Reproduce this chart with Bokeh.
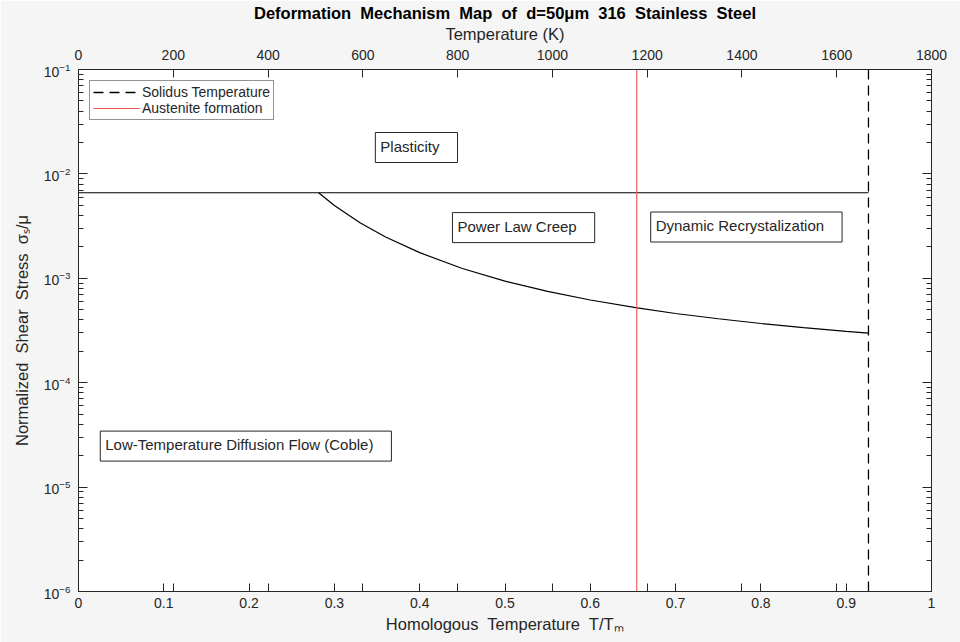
from bokeh.plotting import figure
from bokeh.models import Range1d, LinearAxis, LogAxis, FixedTicker, Label, CustomJSTickFormatter
from bokeh.embed import file_html
from bokeh.resources import INLINE

# ---------------- data ----------------
T_m = 1800                 # temperature scale (K) for homologous axis
T_solidus = 1667           # K
T_austenite = 1178         # K
plasticity_stress = 6.6e-3 # normalized shear stress of plasticity boundary

creep_x = [0.2815, 0.30, 0.33, 0.36, 0.40, 0.45, 0.50, 0.55, 0.60,
           0.655, 0.70, 0.75, 0.80, 0.85, 0.90, 0.926]
creep_y = [6.6e-3, 4.98e-3, 3.41e-3, 2.49e-3, 1.76e-3, 1.24e-3, 9.4e-4,
           7.5e-4, 6.2e-4, 5.2e-4, 4.6e-4, 4.1e-4, 3.69e-4, 3.37e-4,
           3.10e-4, 2.98e-4]

region_names = ["Plasticity", "Power Law Creep", "Dynamic Recrystalization",
                "Low-Temperature Diffusion Flow (Coble)"]
x_ticks = [0, 0.1, 0.2, 0.3, 0.4, 0.5, 0.6, 0.7, 0.8, 0.9, 1.0]
T_ticks = [0, 200, 400, 600, 800, 1000, 1200, 1400, 1600, 1800]
y_decades = [1e-6, 1e-5, 1e-4, 1e-3, 1e-2, 1e-1]

# ---------------- styling ----------------
FONT = "Liberation Sans"
AX = "#262626"
SP = "\u00a0 "   # wide (double) word spacing like the original
y_lo, y_hi = 1e-6, 1e-1
y_minor = [m * d for d in y_decades[:-1] for m in range(2, 10)]

p = figure(width=960, height=642, x_range=Range1d(0, 1),
           y_range=Range1d(y_lo, y_hi), y_axis_type="log",
           output_backend="svg", toolbar_location=None,
           min_border_left=78, min_border_right=29,
           min_border_top=69, min_border_bottom=51,
           background_fill_color="white", border_fill_color="#f5f5f5")
p.grid.visible = False
p.outline_line_color = AX
p.outline_line_width = 1

p.title.text = SP.join(["Deformation", "Mechanism", "Map", "of", "d=50\u03bcm",
                        "316", "Stainless", "Steel"])
p.title.align = "center"
p.title.text_font = FONT
p.title.text_font_size = "16.5px"
p.title.text_font_style = "bold"
p.title.text_color = "#000000"
p.title.offset = 0
p.title.standoff = 0


def style_axis(ax, tick_len=8, minor_len=8):
    ax.axis_line_color = AX
    ax.major_tick_line_color = AX
    ax.minor_tick_line_color = AX
    ax.major_tick_in = tick_len
    ax.major_tick_out = 0
    ax.minor_tick_in = minor_len
    ax.minor_tick_out = 0
    ax.major_label_text_font = FONT
    ax.major_label_text_font_size = "14px"
    ax.major_label_text_color = AX
    ax.axis_label_text_font = FONT
    ax.axis_label_text_font_size = "16.5px"
    ax.axis_label_text_font_style = "normal"
    ax.axis_label_text_color = AX


# bottom axis
xb = p.xaxis[0]
xb.ticker = FixedTicker(ticks=x_ticks, minor_ticks=[t / T_m for t in T_ticks[1:-1]])
xb.axis_label = SP.join(["Homologous", "Temperature", "T/T\u2098"])
style_axis(xb)
xb.major_label_standoff = 6
xb.axis_label_standoff = 4

# left axis
yl = p.yaxis[0]
yl.ticker = FixedTicker(ticks=y_decades, minor_ticks=y_minor)
yl.axis_label = SP.join(["Normalized", "Shear", "Stress", "\u03c3\u209b/\u03bc"])
style_axis(yl, 9, 5)
yl.major_label_standoff = 8
yl.axis_label_standoff = 10

# top axis (temperature)
p.extra_x_ranges = {"T": Range1d(0, T_m)}
xt = LinearAxis(x_range_name="T", axis_label="Temperature (K)",
                ticker=FixedTicker(ticks=T_ticks, minor_ticks=[]))
style_axis(xt)
xt.major_label_standoff = 10
xt.axis_label_standoff = 4
p.add_layout(xt, "above")

# right axis (mirror ticks only)
yr = LogAxis(ticker=FixedTicker(ticks=y_decades, minor_ticks=y_minor),
             formatter=CustomJSTickFormatter(code="return ''"))
style_axis(yr, 9, 5)
yr.major_label_standoff = 0
p.add_layout(yr, "right")

# ---------------- marks ----------------
x_sol = T_solidus / T_m
x_aus = T_austenite / T_m

p.line([0, x_sol], [plasticity_stress, plasticity_stress], line_color="black", line_width=1.2)
p.line(creep_x, creep_y, line_color="black", line_width=1.2)
p.line([x_sol, x_sol], [y_lo, y_hi], line_color="black", line_width=1.3,
       line_dash="10 6", legend_label="Solidus Temperature")
p.line([x_aus, x_aus], [y_lo, y_hi], line_color="#f25252", line_width=1.1,
       legend_label="Austenite formation")

lg = p.legend[0]
lg.location = "top_left"
lg.margin = 11
lg.padding = 3
lg.spacing = 0
lg.label_text_font = FONT
lg.label_text_font_size = "14px"
lg.label_text_color = AX
lg.label_height = 16
lg.glyph_height = 16
lg.glyph_width = 47
lg.label_standoff = 2
lg.border_line_color = AX
lg.border_line_width = 1
lg.background_fill_color = "white"
lg.background_fill_alpha = 1

# region labels (data coordinates: left edge, vertical middle)
region_pos = [(0.348, 1.79e-2), (0.4384, 3.06e-3), (0.6708, 3.1e-3), (0.0255, 2.47e-5)]
for name, (lx, ly) in zip(region_names, region_pos):
    p.add_layout(Label(x=lx, y=ly, text=name, text_align="left",
                       text_baseline="middle", text_font=FONT,
                       text_font_size="15px", text_color=AX,
                       border_line_color=AX, border_line_width=1,
                       background_fill_color="white",
                       padding=(5, 18, 5, 8)))

open("out.html", "w").write(file_html(p, INLINE))
